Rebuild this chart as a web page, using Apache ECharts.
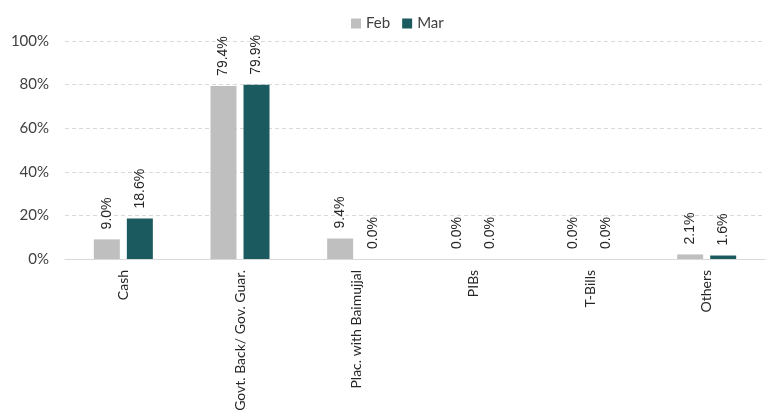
<!DOCTYPE html>
<html>
<head>
<meta charset="utf-8">
<script src="https://cdn.jsdelivr.net/npm/echarts@6/dist/echarts.min.js"></script>
<style>
  html, body { margin: 0; padding: 0; background: #fff; }
  #chart { width: 777px; height: 419px; }
</style>
</head>
<body>
<div id="chart"></div>
<script>
  const categories = ['Cash', 'Govt. Back/ Gov. Guar.', 'Plac. with Baimujjal', 'PIBs', 'T-Bills', 'Others'];
  const febValues = [9.0, 79.4, 9.4, 0.0, 0.0, 2.1];
  const marValues = [18.6, 79.9, 0.0, 0.0, 0.0, 1.6];
  const seriesNames = ['Feb', 'Mar'];

  const chart = echarts.init(document.getElementById('chart'));

  function valueLabel() {
    return {
      show: true,
      position: 'top',
      rotate: 90,
      align: 'left',
      verticalAlign: 'middle',
      distance: 10,
      color: '#262626',
      fontFamily: 'Liberation Sans, Arial, sans-serif',
      fontSize: 14,
      formatter: p => p.value.toFixed(1) + '%'
    };
  }

  chart.setOption({
    animation: false,
    legend: {
      top: 11,
      left: 346,
      itemWidth: 10,
      itemHeight: 10,
      itemGap: 12,
      icon: 'rect',
      textStyle: { fontSize: 15, color: '#404040', fontFamily: 'Lato' },
      data: seriesNames
    },
    grid: { left: 65, right: 12, top: 41, bottom: 160 },
    xAxis: {
      type: 'category',
      data: categories,
      axisTick: { show: false },
      axisLine: { lineStyle: { color: '#d9d9d9' } },
      axisLabel: {
        rotate: 90,
        margin: 11,
        interval: 0,
        color: '#262626',
        fontSize: 14,
        fontFamily: 'Lato'
      }
    },
    yAxis: {
      type: 'value',
      min: 0,
      max: 100,
      interval: 20,
      axisLine: { show: false },
      axisTick: { show: false },
      axisLabel: {
        formatter: '{value}%',
        color: '#404040',
        fontSize: 15,
        margin: 16,
        fontFamily: 'Lato'
      },
      splitLine: { lineStyle: { color: '#d9d9d9', type: [4, 3] } }
    },
    series: [
      {
        name: seriesNames[0],
        type: 'bar',
        data: febValues,
        barWidth: 26,
        barGap: '27%',
        itemStyle: { color: '#bfbfbf' },
        label: valueLabel()
      },
      {
        name: seriesNames[1],
        type: 'bar',
        data: marValues,
        barWidth: 26,
        itemStyle: { color: '#1b5b5f' },
        label: valueLabel()
      }
    ]
  });
</script>
</body>
</html>
